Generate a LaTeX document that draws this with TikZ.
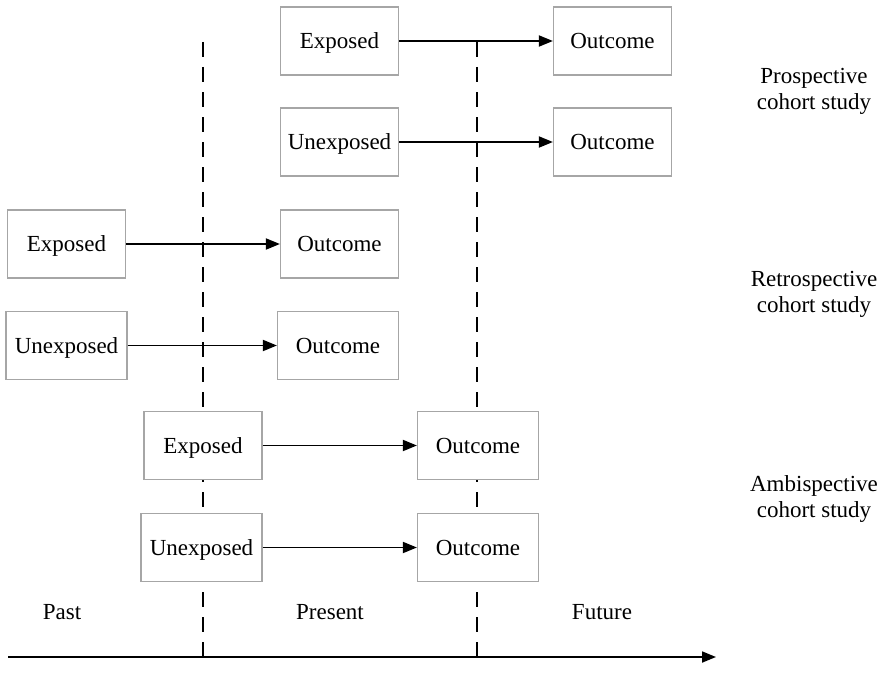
\documentclass[tikz,border=0pt]{standalone}
\usepackage{fontspec}
\setmainfont{Liberation Serif}
\usetikzlibrary{arrows.meta}
\tikzset{
  box/.style={draw=black!35, line width=1.2pt, fill=white, minimum width=118pt,
    minimum height=68pt, inner sep=0pt, text depth=0pt, font=\fontsize{23}{26}\selectfont},
  wide/.style={minimum width=121pt},
  arr/.style={-{Triangle[length=14pt,width=11pt]}, line width=1.8pt},
  txt/.style={align=center, font=\fontsize{23}{26}\selectfont},
  timeline/.style={dash pattern=on 15pt off 10pt, line width=1.7pt}
}
\begin{document}
\begin{tikzpicture}[x=1pt,y=-1pt]
      \useasboundingbox (0,0) rectangle (883,685);
      \coordinate (t0) at (203,42);
      \coordinate (b0) at (203,657);
      \coordinate (t1) at (477,42);
      \coordinate (b1) at (477,657);
      \coordinate (a0) at (8,657);
      \coordinate (a1) at (716,657);
      \draw[timeline] (t0) -- (b0);
      \draw[timeline] (t1) -- (b1);
      \draw
        (339.5,41) node[box] (pe){Exposed}
        (612.5,41) node[box] (po1){Outcome}
        (339.5,142) node[box] (pu){Unexposed}
        (612.5,142) node[box] (po2){Outcome}
        (66.5,244) node[box] (re){Exposed}
        (339.5,244) node[box] (ro1){Outcome}
        (66.5,345.5) node[box,wide] (ru){Unexposed}
        (338,345.5) node[box,wide] (ro2){Outcome}
        (203,445.5) node[box] (ae){Exposed}
        (478,445.5) node[box,wide] (ao1){Outcome}
        (201.5,547.5) node[box,wide] (au){Unexposed}
        (478,547.5) node[box,wide] (ao2){Outcome};
      \begin{scope}[arr]
        \draw (pe) to (po1);
        \draw (pu) to (po2);
        \draw (re) to (ro1);
        \draw (ru) to (ro2);
        \draw (ae) to (ao1);
        \draw (au) to (ao2);
        \draw (a0) to (a1);
      \end{scope}
      \draw
        (62,612) node[txt] (past){Past}
        (330,612) node[txt] (present){Present}
        (602,612) node[txt] (future){Future}
        (814,91) node[txt] (pro){Prospective\\cohort study}
        (814,294) node[txt] (retro){Retrospective\\cohort study}
        (814,499) node[txt] (ambi){Ambispective\\cohort study};
    \end{tikzpicture}
\end{document}
